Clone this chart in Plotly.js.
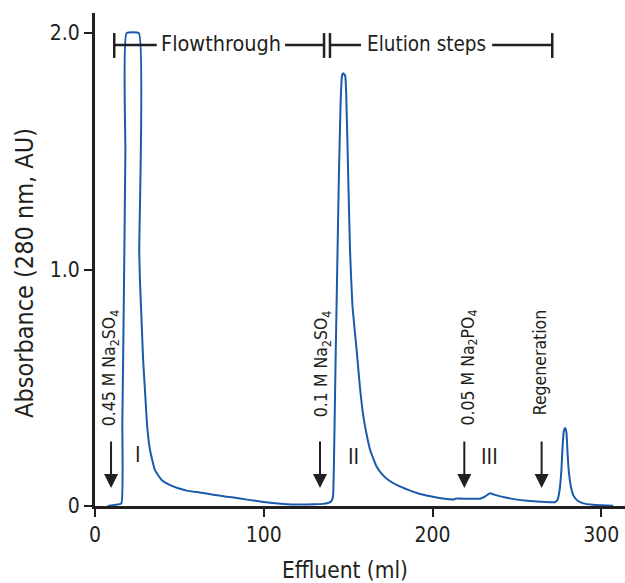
<!DOCTYPE html>
<html>
<head>
<meta charset="utf-8">
<script src="https://cdn.plot.ly/plotly-3.0.1.min.js"></script>
<style>html,body{margin:0;padding:0;background:#fff;}#chart{width:625px;height:583px;}</style>
</head>
<body>
<div id="chart"></div>
<script>
// Effluent volume (ml) and absorbance (280 nm, AU)
const effluent = [7.5, 12, 15.6, 16.2, 16.8, 17.4, 18.0, 18.7, 26.0, 26.2, 26.6, 27.5, 28.5, 29.6, 31, 32.6, 35.5, 39.5, 44, 49.3, 54.4, 62, 70, 77, 82, 90, 100, 110, 121, 130, 135, 138, 140, 141, 141.6, 142.5, 143.5, 144.5, 145.5, 146.3, 147, 148.2, 148.8, 150, 151.1, 152.5, 155, 157, 159, 161, 163, 166.9, 170, 173.8, 179, 185.6, 192, 199.5, 206, 213, 213.5, 220, 228, 231, 234, 237, 243.9, 250, 256, 263.6, 272.5, 274, 275.3, 276.3, 277, 277.8, 278.6, 279.3, 280, 280.8, 282, 283.4, 286, 289.3, 295, 300, 307];
const absorbance = [0, 0.005, 0.011, 0.35, 0.7, 1.08, 1.5, 2.0, 2.0, 1.08, 0.96, 0.8, 0.62, 0.49, 0.33, 0.237, 0.152, 0.11, 0.09, 0.075, 0.065, 0.057, 0.048, 0.04, 0.036, 0.027, 0.017, 0.01, 0.006, 0.007, 0.009, 0.013, 0.02, 0.04, 0.2, 0.6, 1.0, 1.4, 1.7, 1.82, 1.83, 1.82, 1.75, 1.4, 1.08, 0.85, 0.66, 0.5, 0.378, 0.3, 0.237, 0.166, 0.135, 0.11, 0.088, 0.068, 0.052, 0.04, 0.032, 0.028, 0.031, 0.031, 0.031, 0.04, 0.054, 0.047, 0.035, 0.027, 0.022, 0.018, 0.016, 0.025, 0.07, 0.15, 0.25, 0.32, 0.33, 0.31, 0.22, 0.14, 0.08, 0.045, 0.022, 0.011, 0.005, 0.003, 0.001];

const xTickVals = [0, 100, 200, 300];
const xTickText = ['0', '100', '200', '300'];
const yTickVals = [0, 1, 2];
const yTickText = ['0', '1.0', '2.0'];

// Buffer step labels and arrow positions
const stepLabels = ['0.45 M Na<sub>2</sub>SO<sub>4</sub>', '0.1 M Na<sub>2</sub>SO<sub>4</sub>', '0.05 M Na<sub>2</sub>PO<sub>4</sub>', 'Regeneration'];
const stepLabelX = [9.7, 134.5, 221.6, 264.1];
const stepLabelY = [0.584, 0.60, 0.586, 0.607];
const stepArrowX = [9.5, 133.3, 218.8, 264.6];
const stepArrowY = [0.076, 0.076, 0.076, 0.076];
const peakLabels = ['I', 'II', 'III'];
const peakX = [25.7, 153.4, 234];
const peakY = [0.216, 0.209, 0.209];

const FONT = "'DejaVu Sans Condensed', 'Liberation Sans Narrow', 'Arial Narrow', sans-serif";
const INK = '#231f20';

const annotations = [];
stepLabels.forEach((t, i) => {
  annotations.push({x: stepLabelX[i], y: stepLabelY[i], xref: 'x', yref: 'y', text: t, showarrow: false,
    textangle: -90, xanchor: 'center', yanchor: 'middle', font: {family: FONT, size: 17.5, color: INK}});
  annotations.push({x: stepArrowX[i], y: stepArrowY[i], xref: 'x', yref: 'y', text: '', showarrow: true,
    ax: 0, ay: -48, arrowhead: 2, arrowsize: 1.4, arrowwidth: 2, arrowcolor: INK, standoff: 0});
});
peakLabels.forEach((t, i) => {
  annotations.push({x: peakX[i], y: peakY[i], xref: 'x', yref: 'y', text: t, showarrow: false,
    font: {family: FONT, size: 21, color: INK}});
});
annotations.push({x: 74.6, y: 1.955, xref: 'x', yref: 'y', text: 'Flowthrough', showarrow: false,
  font: {family: FONT, size: 21.5, color: INK}});
annotations.push({x: 196.2, y: 1.955, xref: 'x', yref: 'y', text: 'Elution steps', showarrow: false,
  font: {family: FONT, size: 20.5, color: INK}});
annotations.push({x: 0.4717, y: -0.13, xref: 'paper', yref: 'paper', text: 'Effluent (ml)', showarrow: false,
  xanchor: 'center', yanchor: 'middle', font: {family: FONT, size: 22.5, color: INK}});
annotations.push({x: -0.134, y: 0.4726, xref: 'paper', yref: 'paper', text: 'Absorbance (280 nm, AU)', showarrow: false,
  textangle: -90, xanchor: 'center', yanchor: 'middle', font: {family: FONT, size: 25, color: INK}});

function seg(x0, x1, y0, y1) {
  return {type: 'line', xref: 'x', yref: 'y', x0: x0, x1: x1, y0: y0, y1: y1, line: {color: INK, width: 2.5}};
}
const shapes = [
  seg(11.4, 36.6, 1.95, 1.95), seg(112.6, 135.7, 1.95, 1.95), seg(139.2, 157.6, 1.95, 1.95), seg(235.3, 270.9, 1.95, 1.95),
  seg(11.4, 11.4, 1.895, 2.0), seg(135.7, 135.7, 1.895, 2.0), seg(139.2, 139.2, 1.895, 2.0), seg(270.9, 270.9, 1.895, 2.0)
];

const trace = {x: effluent, y: absorbance, type: 'scatter', mode: 'lines',
  line: {color: '#1a5aab', width: 2, shape: 'spline', smoothing: 0.4}, hoverinfo: 'none'};

const layout = {
  width: 625, height: 583,
  margin: {l: 95, r: 0, t: 13, b: 77},
  paper_bgcolor: '#fff', plot_bgcolor: '#fff',
  showlegend: false,
  font: {family: FONT, color: INK},
  xaxis: {range: [0, 314], showgrid: false, zeroline: false, showline: true, linecolor: INK, linewidth: 3,
    ticks: 'outside', ticklen: 8, tickwidth: 2, tickcolor: INK, tickvals: xTickVals, ticktext: xTickText,
    tickfont: {family: FONT, size: 21, color: INK}},
  yaxis: {range: [0, 2.085], showgrid: false, zeroline: false, showline: true, linecolor: INK, linewidth: 3,
    ticks: 'outside', ticklen: 8, tickwidth: 2, tickcolor: INK, tickvals: yTickVals, ticktext: yTickText,
    tickfont: {family: FONT, size: 21, color: INK}},
  annotations: annotations,
  shapes: shapes
};
Plotly.newPlot('chart', [trace], layout, {staticPlot: true, displayModeBar: false});
</script>
</body>
</html>
